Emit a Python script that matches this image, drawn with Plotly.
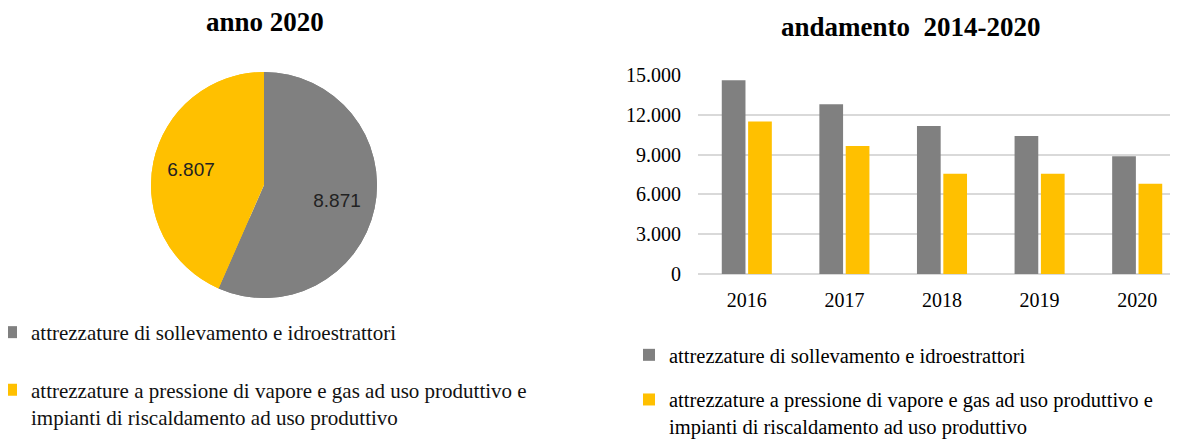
import plotly.graph_objects as go

# Data
categorie = ["attrezzature di sollevamento e idroestrattori<br> ",
             "attrezzature a pressione di vapore e gas ad uso produttivo e<br>impianti di riscaldamento ad uso produttivo"]
valori_2020 = [8871, 6807]

anni = ["2016", "2017", "2018", "2019", "2020"]
sollevamento = [14600, 12800, 11150, 10400, 8871]
pressione = [11500, 9650, 7550, 7550, 6807]

nome_sollevamento = "attrezzature di sollevamento e idroestrattori"
nome_pressione = "attrezzature a pressione di vapore e gas ad uso produttivo e<br>impianti di riscaldamento ad uso produttivo"

GRIGIO = "#808080"
GIALLO = "#FFC000"
SERIF = "Liberation Serif, Times New Roman, serif"
W, H = 1178, 441
OFF = 8  # page body margin around the plot div


def px_x(x):
    return (x - OFF) / W


def px_y(y):
    return 1 - (y - OFF) / H


pie_dom = dict(x=[px_x(151), px_x(377)], y=[px_y(298), px_y(72)])

fig = go.Figure()

# Pie chart, year 2020 (full disc underneath, ring on top carries labels)
fig.add_trace(go.Pie(
    labels=categorie, values=valori_2020, sort=False,
    direction="clockwise", rotation=0,
    marker=dict(colors=[GRIGIO, GIALLO], line=dict(width=0)),
    textinfo="none", showlegend=False, hoverinfo="skip",
    domain=pie_dom,
))
fig.add_trace(go.Pie(
    labels=categorie, values=valori_2020, sort=False,
    direction="clockwise", rotation=0, hole=0.32,
    marker=dict(colors=[GRIGIO, GIALLO], line=dict(width=0)),
    texttemplate="%{value:,}",
    textposition="inside",
    insidetextorientation="horizontal",
    textfont=dict(family="Liberation Sans", size=19, color="#222222"),
    domain=pie_dom,
    legend="legend",
    hoverinfo="label+value",
))

# Bar chart, trend
fig.add_trace(go.Bar(
    x=anni, y=sollevamento, name=nome_sollevamento,
    marker=dict(color=GRIGIO, line=dict(width=0)),
    legend="legend2", legendgroup="a",
))
fig.add_trace(go.Bar(
    x=anni, y=pressione, name=nome_pressione,
    marker=dict(color=GIALLO, line=dict(width=0)),
    legend="legend2", legendgroup="b",
))

fig.update_layout(
    width=W, height=H, autosize=False,
    margin=dict(l=0, r=0, t=0, b=0, autoexpand=False),
    paper_bgcolor="white", plot_bgcolor="white",
    separators=",.",
    font=dict(family=SERIF, color="#000000"),
    barmode="group", bargap=0.46, bargroupgap=0.1,
    xaxis=dict(
        domain=[px_x(698), 1.0],
        type="category", automargin=False,
        showgrid=False, showline=False, ticks="",
        tickfont=dict(family=SERIF, size=20),
        ticklabelstandoff=12,
    ),
    yaxis=dict(
        domain=[px_y(274), px_y(75)],
        range=[0, 15000], automargin=False,
        tickvals=[0, 3000, 6000, 9000, 12000, 15000],
        tickformat=",d",
        showgrid=True, gridcolor="#d9d9d9", gridwidth=2,
        zeroline=True, zerolinecolor="#d9d9d9", zerolinewidth=2,
        showline=False, ticks="",
        tickfont=dict(family=SERIF, size=20),
        ticklabelstandoff=16,
    ),
    legend=dict(
        x=px_x(-9), y=px_y(312), xanchor="left", yanchor="top",
        font=dict(family=SERIF, size=21, color="#111111"),
        valign="top", itemwidth=30, bgcolor="rgba(0,0,0,0)",
        traceorder="normal",
    ),
    legend2=dict(
        x=px_x(629), y=px_y(335), xanchor="left", yanchor="top",
        font=dict(family=SERIF, size=20.5, color="#000000"),
        valign="top", itemwidth=30, bgcolor="rgba(0,0,0,0)",
        traceorder="grouped", tracegroupgap=15,
    ),
    annotations=[
        dict(text="<b>anno 2020</b>", x=px_x(265), y=px_y(22),
             xref="paper", yref="paper", showarrow=False,
             xanchor="center", yanchor="middle",
             font=dict(family=SERIF, size=27, color="#000000")),
        dict(text="<b>andamento&nbsp; 2014-2020</b>", x=px_x(911), y=px_y(27),
             xref="paper", yref="paper", showarrow=False,
             xanchor="center", yanchor="middle",
             font=dict(family=SERIF, size=27, color="#000000")),
    ],
)

fig.write_html("out.html")
